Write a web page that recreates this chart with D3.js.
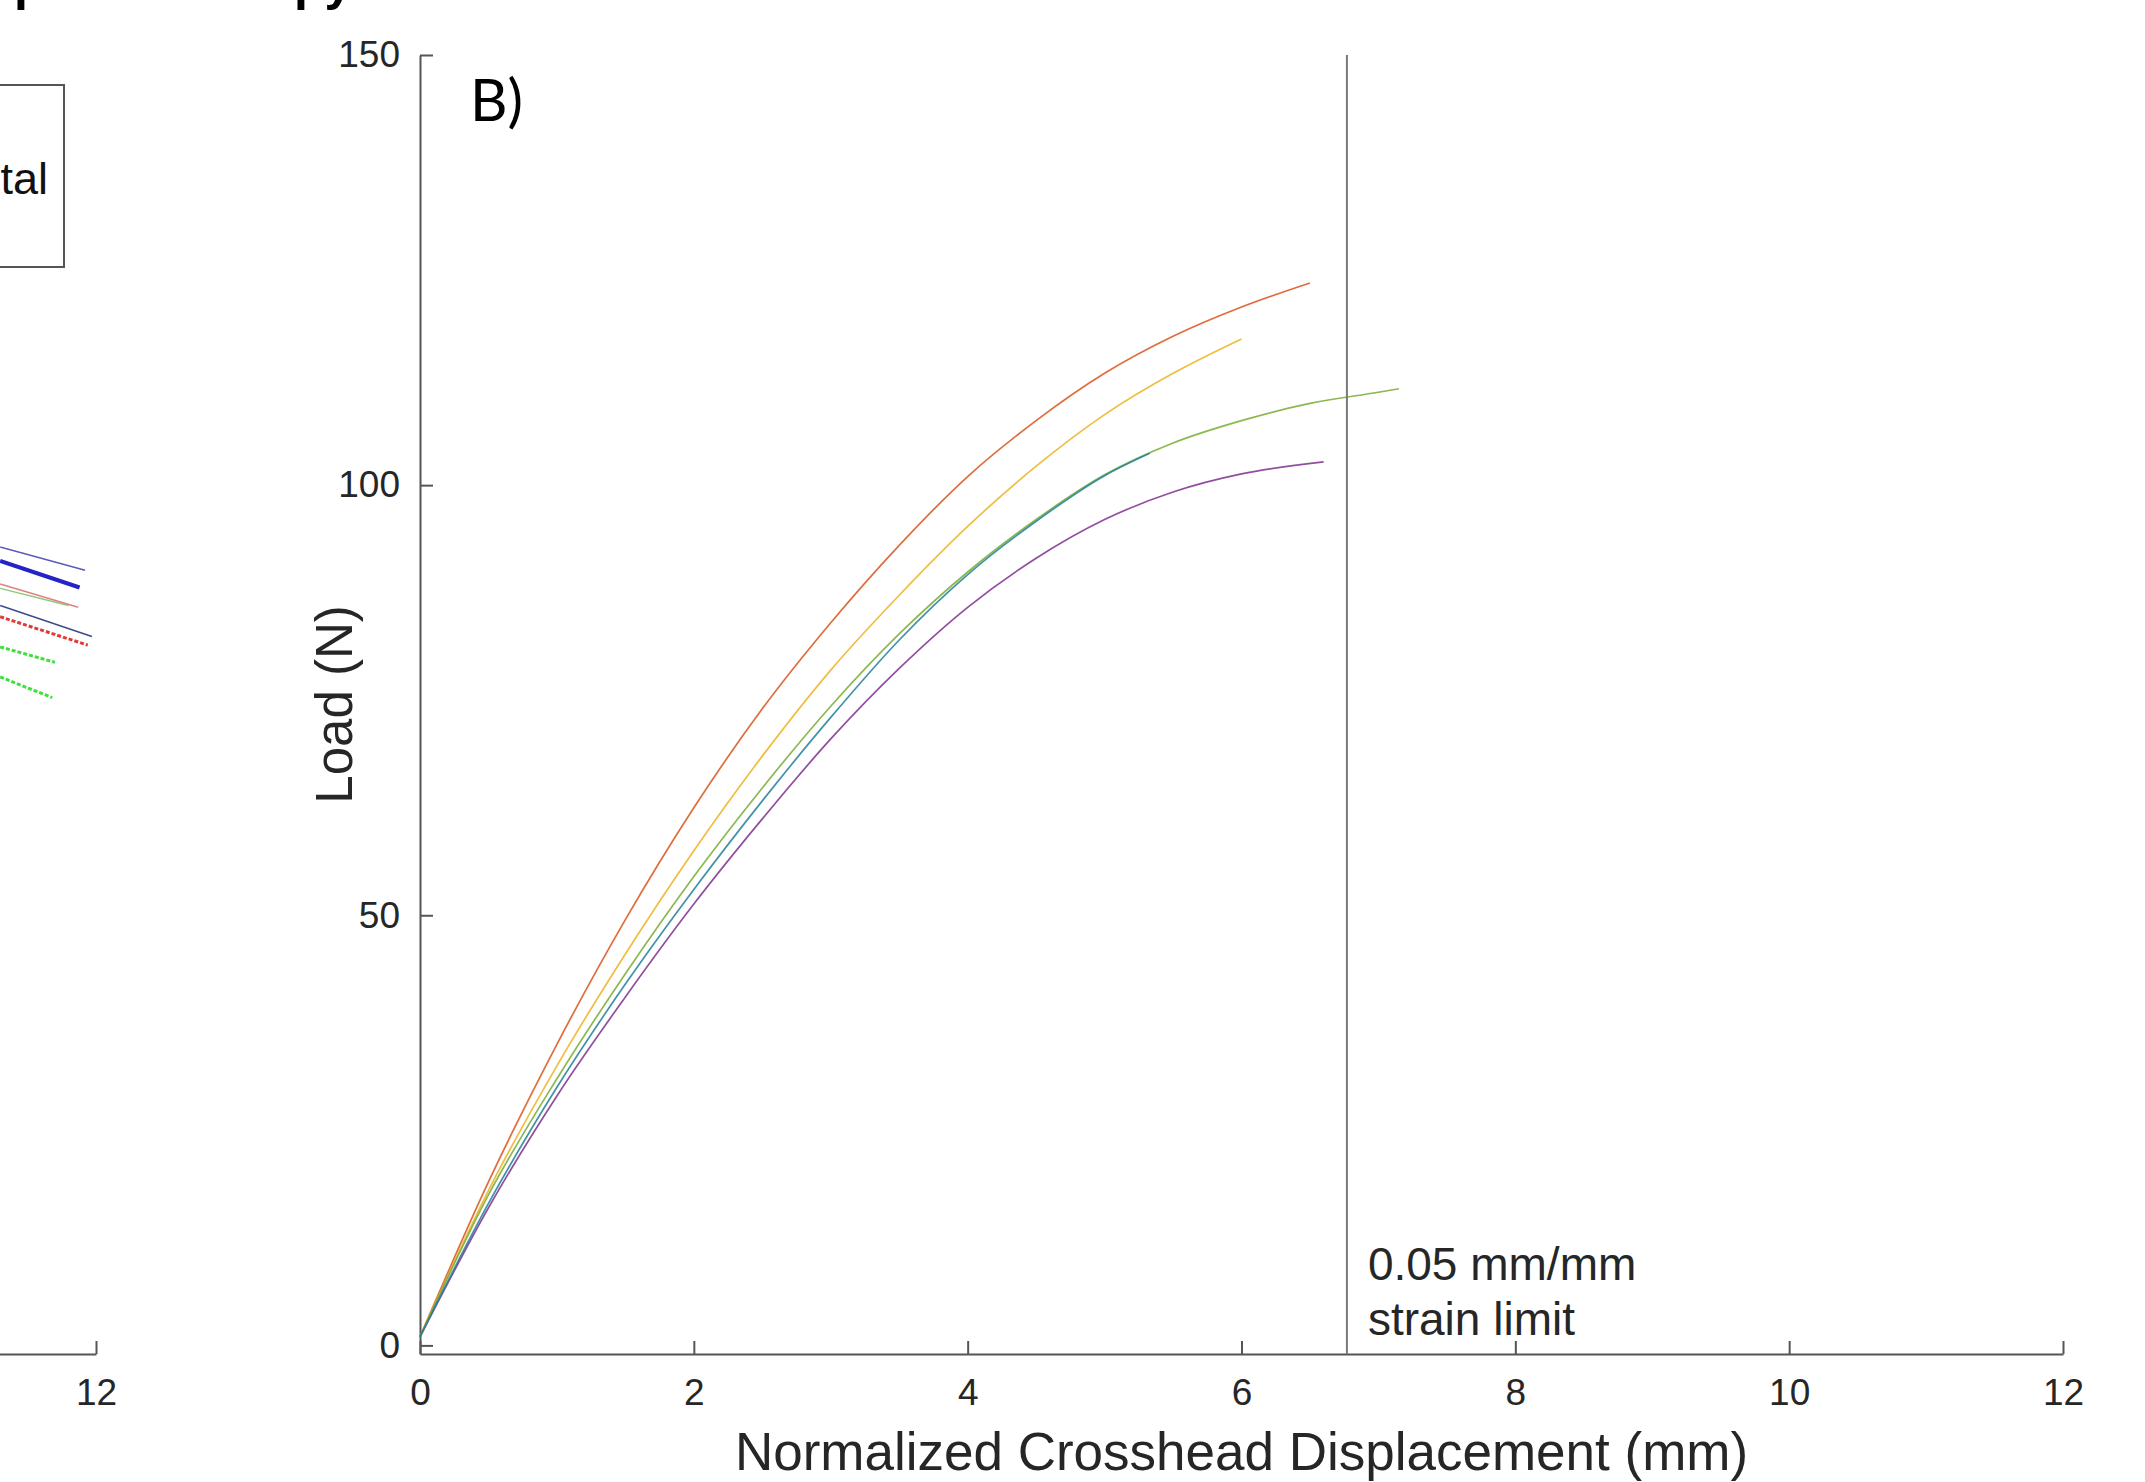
<!DOCTYPE html>
<html>
<head>
<meta charset="utf-8">
<script src="https://cdn.jsdelivr.net/npm/d3@7"></script>
<style>
  html, body { margin: 0; padding: 0; background: #fff; }
  svg { display: block; font-family: "Liberation Sans", Arial, sans-serif; }
</style>
</head>
<body>
<svg id="chart" width="2145" height="1482"></svg>
<script>
// axis ticks
const xTicks = [0, 2, 4, 6, 8, 10, 12];
const yTicks = [0, 50, 100, 150];
const strainLimit = 6.77;

// load (N) vs normalized crosshead displacement (mm)
const blueX   = [0, 0.5, 1, 1.5, 2, 2.5, 3, 3.5, 4, 4.5, 5, 5.33];
const blueY   = [1, 16.5, 30, 42, 53, 63.3, 73, 82, 89.6, 95.8, 101.1, 103.7];
const orangeX = [0, 0.5, 1, 1.5, 2, 2.5, 3, 3.5, 4, 4.5, 5, 5.5, 6, 6.5];
const orangeY = [1, 19, 35, 49.5, 62.5, 74, 84, 93, 101, 107.5, 113, 117.3, 120.7, 123.5];
const yellowX = [0, 0.5, 1, 1.5, 2, 2.5, 3, 3.5, 4, 4.5, 5, 5.5, 6];
const yellowY = [1, 18, 32.5, 45.5, 57.5, 68.5, 78.5, 87.2, 95.2, 102.2, 108.2, 113, 117];
const purpleX = [0, 0.5, 1, 1.5, 2, 2.5, 3, 3.5, 4, 4.5, 5, 5.5, 6, 6.6];
const purpleY = [1, 16, 29, 40.5, 51.3, 61.2, 70.5, 78.7, 85.8, 91.5, 96, 99.2, 101.3, 102.7];
const greenX  = [0, 0.5, 1, 1.5, 2, 2.5, 3, 3.5, 4, 4.5, 5, 5.5, 6, 6.5, 7, 7.15];
const greenY  = [1, 17.5, 31, 43.2, 54.5, 64.8, 74.3, 82.7, 89.9, 96, 101.2, 104.9, 107.5, 109.5, 110.8, 111.2];

// tail ends of the neighbouring panel (A) that show at the left edge
const leftX = [
  [11.30, 11.92], [11.30, 11.88], [11.30, 11.80], [11.30, 11.87],
  [11.30, 11.97], [11.30, 11.94], [11.30, 11.70], [11.30, 11.68]
];
const leftY = [
  [92.8, 90.1], [91.2, 88.1], [88.0, 86.0], [88.5, 85.8],
  [86.0, 82.4], [84.7, 81.4], [81.2, 79.4], [77.7, 75.3]
];
const leftColors = ["#5a5ab8", "#2323c8", "#8cc878", "#e08080", "#3a4a8a", "#e03a3a", "#3ee03e", "#3ee03e"];
const leftWidths = [1.5, 4, 1.5, 1.5, 1.5, 3, 3, 3];

// drawing order: blue last so its overlap with green stays visible
const series = [
  { x: orangeX, y: orangeY, color: "#d95319" },
  { x: yellowX, y: yellowY, color: "#edb120" },
  { x: purpleX, y: purpleY, color: "#7e2f8e" },
  { x: greenX, y: greenY, color: "#77ac30" },
  { x: blueX, y: blueY, color: "#1f7f9a" }
];

const svg = d3.select("#chart");
const axisColor = "#555";
const textColor = "#262626";

const x = d3.scaleLinear().domain([0, 12]).range([420, 2063]);
const y = d3.scaleLinear().domain([-1, 150]).range([1354, 55]);
const xLeft = d3.scaleLinear().domain([0, 12]).range([96 - 1643, 96]);

// cut-off title text at the very top
svg.append("text").attr("x", 14).attr("y", 0)
  .attr("font-size", 50).attr("font-weight", "bold").attr("fill", "#000").text("p");
svg.append("text").attr("x", 294).attr("y", 0)
  .attr("font-size", 50).attr("font-weight", "bold").attr("fill", "#000").text("py");

function styleAxis(g) {
  g.select(".domain").attr("stroke", axisColor).attr("stroke-width", 2);
  g.selectAll(".tick line").attr("stroke", axisColor).attr("stroke-width", 2);
  g.selectAll(".tick text").attr("fill", textColor).attr("font-size", 37)
    .attr("font-family", "Liberation Sans, Arial, sans-serif");
}

// left (partial) panel
const gLeft = svg.append("g");
gLeft.append("g")
  .attr("transform", `translate(0,${y(-1)})`)
  .call(d3.axisBottom(xLeft).tickValues(xTicks).tickSizeInner(-13).tickSizeOuter(0).tickPadding(25))
  .call(styleAxis);

leftX.forEach((lx, i) => {
  gLeft.append("path")
    .attr("d", d3.line()(lx.map((v, j) => [xLeft(v), y(leftY[i][j])])))
    .attr("fill", "none")
    .attr("stroke", leftColors[i])
    .attr("stroke-width", leftWidths[i])
    .attr("stroke-dasharray", leftWidths[i] >= 3 && i !== 1 ? "4,2" : null);
});

gLeft.append("rect")
  .attr("x", -10).attr("y", 85).attr("width", 74).attr("height", 182)
  .attr("fill", "#fff").attr("stroke", axisColor).attr("stroke-width", 2);
gLeft.append("text")
  .attr("x", 48).attr("y", 194).attr("text-anchor", "end")
  .attr("font-size", 45).attr("fill", "#111").text("Experimental");

// main panel
svg.append("g")
  .attr("transform", `translate(0,${y(-1)})`)
  .call(d3.axisBottom(x).tickValues(xTicks).tickSizeInner(-13).tickSizeOuter(0).tickPadding(25))
  .call(styleAxis);

svg.append("g")
  .attr("transform", `translate(${x(0)},0)`)
  .call(d3.axisLeft(y).tickValues(yTicks).tickSizeInner(-13).tickSizeOuter(0).tickPadding(20))
  .call(styleAxis);

const line = d3.line().curve(d3.curveMonotoneX);
series.forEach(s => {
  svg.append("path")
    .attr("d", line(s.x.map((v, i) => [x(v), y(s.y[i])])))
    .attr("fill", "none")
    .attr("stroke", s.color)
    .attr("stroke-width", 1.7)
    .attr("stroke-opacity", 0.85);
});

// strain limit marker
svg.append("line")
  .attr("x1", x(strainLimit)).attr("x2", x(strainLimit))
  .attr("y1", y(150)).attr("y2", y(-1))
  .attr("stroke", "#7a7a7a").attr("stroke-width", 2);
svg.append("text")
  .attr("x", x(strainLimit) + 21).attr("y", 1280)
  .attr("font-size", 46).attr("fill", textColor).text("0.05 mm/mm");
svg.append("text")
  .attr("x", x(strainLimit) + 21).attr("y", 1335)
  .attr("font-size", 46).attr("fill", textColor).text("strain limit");

// panel label
svg.append("text")
  .attr("x", 470).attr("y", 121)
  .attr("font-family", "Lato, 'Open Sans', sans-serif")
  .attr("font-size", 58).attr("fill", "#000").text("B)");

// axis titles
svg.append("text")
  .attr("x", (x(0) + x(12)) / 2).attr("y", 1470)
  .attr("text-anchor", "middle").attr("font-size", 53).attr("fill", textColor)
  .text("Normalized Crosshead Displacement (mm)");
svg.append("text")
  .attr("transform", `translate(352,${(y(150) + y(-1)) / 2}) rotate(-90)`)
  .attr("text-anchor", "middle").attr("font-size", 51).attr("fill", textColor)
  .text("Load (N)");
</script>
</body>
</html>
